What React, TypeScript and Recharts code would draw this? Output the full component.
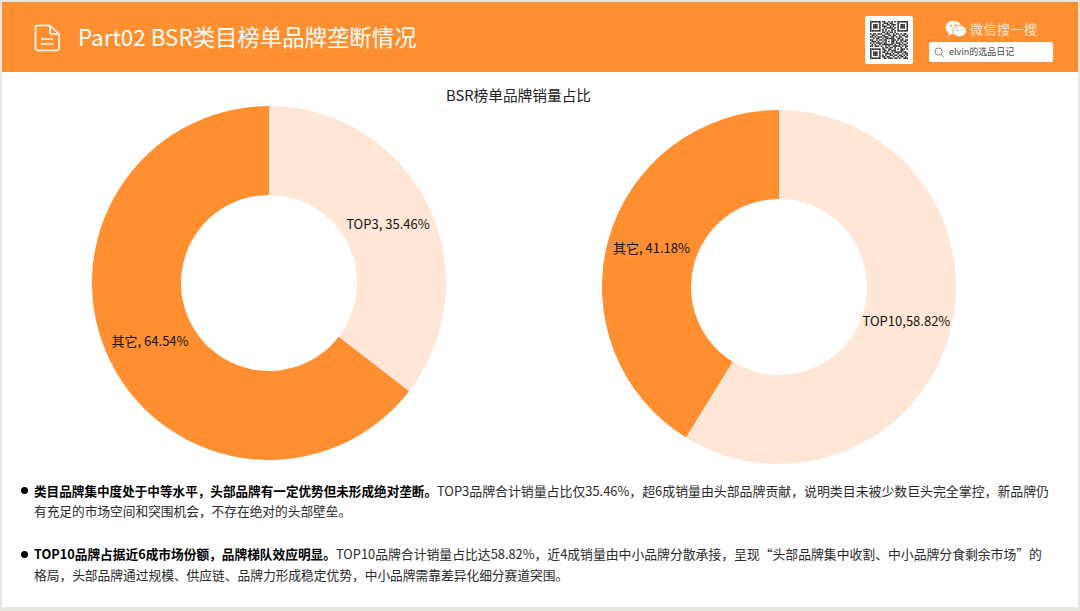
import { PieChart, Pie, Cell } from 'recharts'

const ORANGE = '#FF8F31'
const PALE = '#FFE6D6'

const leftNames = ['TOP3', '其它']
const leftValues = [35.46, 64.54]
const leftLabels = ['TOP3, 35.46%', '其它, 64.54%']
const leftColors = [PALE, ORANGE]

const rightNames = ['TOP10', '其它']
const rightValues = [58.82, 41.18]
const rightLabels = ['TOP10,58.82%', '其它, 41.18%']
const rightColors = [PALE, ORANGE]

const leftData = leftNames.map((name, i) => ({ name, value: leftValues[i], text: leftLabels[i] }))
const rightData = rightNames.map((name, i) => ({ name, value: rightValues[i], text: rightLabels[i] }))

const FONT = '"Noto Sans CJK SC", "Noto Sans", sans-serif'

// hand drawn stand-in for the qr code in the header
const qrRows = [
  '1111111011001010101111111',
  '1000001001110110001000001',
  '1011101010011011101011101',
  '1011101011100101001011101',
  '1011101001011110101011101',
  '1000001010100011001000001',
  '1111111010101010101111111',
  '0000000011010110100000000',
  '1011011100111001011010110',
  '0110100011001101100101101',
  '1101011101110011010110011',
  '0010110010111111001101000',
  '1100101101100011101011011',
  '0111010010101011010010110',
  '1010111101100011011101001',
  '0101001011111110100110110',
  '1101110100101001111101011',
  '0000000010110110100010010',
  '1111111011001100101011101',
  '1000001001101011100011000',
  '1011101011010010111110110',
  '1011101000111101001001011',
  '1011101010100110110110101',
  '1000001011011001001011010',
  '1111111001101110110100111',
]

const makeLabel = (nudgeY: number) => (props: any) => {
  const { cx, cy, midAngle, innerRadius, outerRadius, payload } = props
  const r = (innerRadius + outerRadius) / 2
  const rad = (midAngle * Math.PI) / 180
  return (
    <text
      x={cx + r * Math.cos(rad)}
      y={cy - r * Math.sin(rad) + nudgeY}
      textAnchor="middle"
      dominantBaseline="central"
      fontSize={13}
      fontFamily={FONT}
      fill="#111"
    >
      {payload.text}
    </text>
  )
}

const textLine = (x: number, y: number, size: number, content: React.ReactNode) => (
  <div
    style={{
      position: 'absolute',
      left: x,
      top: y,
      whiteSpace: 'nowrap',
      fontSize: size,
      lineHeight: '18px',
      color: '#2a2a2a',
    }}
  >
    {content}
  </div>
)

const boldPart = (s: string, size: number) => <b style={{ color: '#000', fontSize: size }}>{s}</b>

export default function App() {
  return (
    <div
      style={{
        position: 'absolute',
        left: 0,
        top: 0,
        width: 1080,
        height: 611,
        background: '#E6E8E0',
        fontFamily: FONT,
        overflow: 'hidden',
      }}
    >
      <div style={{ position: 'absolute', left: 2, top: 2, width: 1076, height: 605, background: '#fff' }} />
      <div style={{ position: 'absolute', left: 2, top: 2, width: 1076, height: 70, background: ORANGE }} />

      <svg style={{ position: 'absolute', left: 34, top: 24 }} width={28} height={28} viewBox="0 0 28 28">
        <path
          d="M4 1.5 H16 L25 10 V24 Q25 26.5 22.5 26.5 H4 Q1.5 26.5 1.5 24 V4 Q1.5 1.5 4 1.5 Z M16 1.5 V8 Q16 10 18 10 H25 M7 15 H19 M7 20 H19"
          fill="none"
          stroke="#fff"
          strokeWidth={1.6}
        />
      </svg>
      <div style={{ position: 'absolute', left: 78, top: 19, fontSize: 22.4, lineHeight: '34px', color: '#fff', whiteSpace: 'nowrap' }}>
        Part02 BSR类目榜单品牌垄断情况
      </div>

      <div style={{ position: 'absolute', left: 865, top: 16, width: 48, height: 48, background: '#fff', borderRadius: 2 }} />
      <svg style={{ position: 'absolute', left: 870, top: 21, filter: 'blur(0.4px)' }} width={38} height={38} viewBox="0 0 25 25">
        {qrRows.map((row, y) =>
          row.split('').map((c, x) => (c === '1' ? <rect key={`${x}-${y}`} x={x} y={y} width={1} height={1} fill="#222" /> : null)),
        )}
      </svg>

      <svg style={{ position: 'absolute', left: 945, top: 20 }} width={22} height={18} viewBox="0 0 22 18">
        <ellipse cx={8.5} cy={7.5} rx={8} ry={6.8} fill="#fff" />
        <path d="M4 12 L3.5 16 L8 13 Z" fill="#fff" />
        <ellipse cx={14.5} cy={11} rx={6.8} ry={5.8} fill="#fff" stroke={ORANGE} strokeWidth={0.8} />
        <circle cx={6} cy={5.5} r={1} fill={ORANGE} />
        <circle cx={11} cy={5.5} r={1} fill={ORANGE} />
        <circle cx={12.5} cy={10} r={0.8} fill={ORANGE} />
        <circle cx={16.5} cy={10} r={0.8} fill={ORANGE} />
      </svg>
      <div style={{ position: 'absolute', left: 970, top: 19, fontSize: 13, lineHeight: '19px', letterSpacing: 0.5, color: '#FFE9D8', whiteSpace: 'nowrap' }}>
        微信搜一搜
      </div>
      <div style={{ position: 'absolute', left: 929, top: 42, width: 124, height: 20, background: '#fff', borderRadius: 2 }} />
      <svg style={{ position: 'absolute', left: 934, top: 47 }} width={11} height={11} viewBox="0 0 11 11">
        <circle cx={4.6} cy={4.6} r={3.6} fill="none" stroke="#777" strokeWidth={0.9} />
        <path d="M7.3 7.3 L10 10" stroke="#777" strokeWidth={0.9} />
      </svg>
      <div style={{ position: 'absolute', left: 949, top: 45, fontSize: 9, lineHeight: '14px', color: '#444', whiteSpace: 'nowrap' }}>
        elvin的选品日记
      </div>

      <div style={{ position: 'absolute', left: 446, top: 85, whiteSpace: 'nowrap', fontSize: 14.7, lineHeight: '20px', color: '#222' }}>
        BSR榜单品牌销量占比
      </div>

      <div style={{ position: 'absolute', left: 0, top: 72 }}>
        <PieChart width={1080} height={400} margin={{ top: 0, right: 0, bottom: 0, left: 0 }}>
          <Pie
            data={leftData}
            dataKey="value"
            nameKey="name"
            cx={269}
            cy={211}
            innerRadius={88}
            outerRadius={177}
            startAngle={90}
            endAngle={-270}
            stroke="none"
            label={makeLabel(-1)}
            labelLine={false}
            isAnimationActive={false}
          >
            {leftData.map((d, i) => (
              <Cell key={d.name} fill={leftColors[i]} />
            ))}
          </Pie>
          <Pie
            data={rightData}
            dataKey="value"
            nameKey="name"
            cx={779}
            cy={215}
            innerRadius={88}
            outerRadius={177}
            startAngle={90}
            endAngle={-270}
            stroke="none"
            label={makeLabel(-3)}
            labelLine={false}
            isAnimationActive={false}
          >
            {rightData.map((d, i) => (
              <Cell key={d.name} fill={rightColors[i]} />
            ))}
          </Pie>
        </PieChart>
      </div>

      <div style={{ position: 'absolute', left: 21, top: 487, width: 7, height: 7, borderRadius: '50%', background: '#000' }} />
      <div style={{ position: 'absolute', left: 21, top: 551, width: 7, height: 7, borderRadius: '50%', background: '#000' }} />
      {textLine(
        34,
        482,
        12.9,
        <>
          {boldPart('类目品牌集中度处于中等水平，头部品牌有一定优势但未形成绝对垄断。', 12.6)}
          TOP3品牌合计销量占比仅35.46%，超6成销量由头部品牌贡献，说明类目未被少数巨头完全掌控，新品牌仍
        </>,
      )}
      {textLine(34, 502, 12.7, '有充足的市场空间和突围机会，不存在绝对的头部壁垒。')}
      {textLine(
        34,
        545,
        12.84,
        <>
          {boldPart('TOP10品牌占据近6成市场份额，品牌梯队效应明显。', 12.7)}
          TOP10品牌合计销量占比达58.82%，近4成销量由中小品牌分散承接，呈现“头部品牌集中收割、中小品牌分食剩余市场”的
        </>,
      )}
      {textLine(34, 566, 12.72, '格局，头部品牌通过规模、供应链、品牌力形成稳定优势，中小品牌需靠差异化细分赛道突围。')}
    </div>
  )
}
